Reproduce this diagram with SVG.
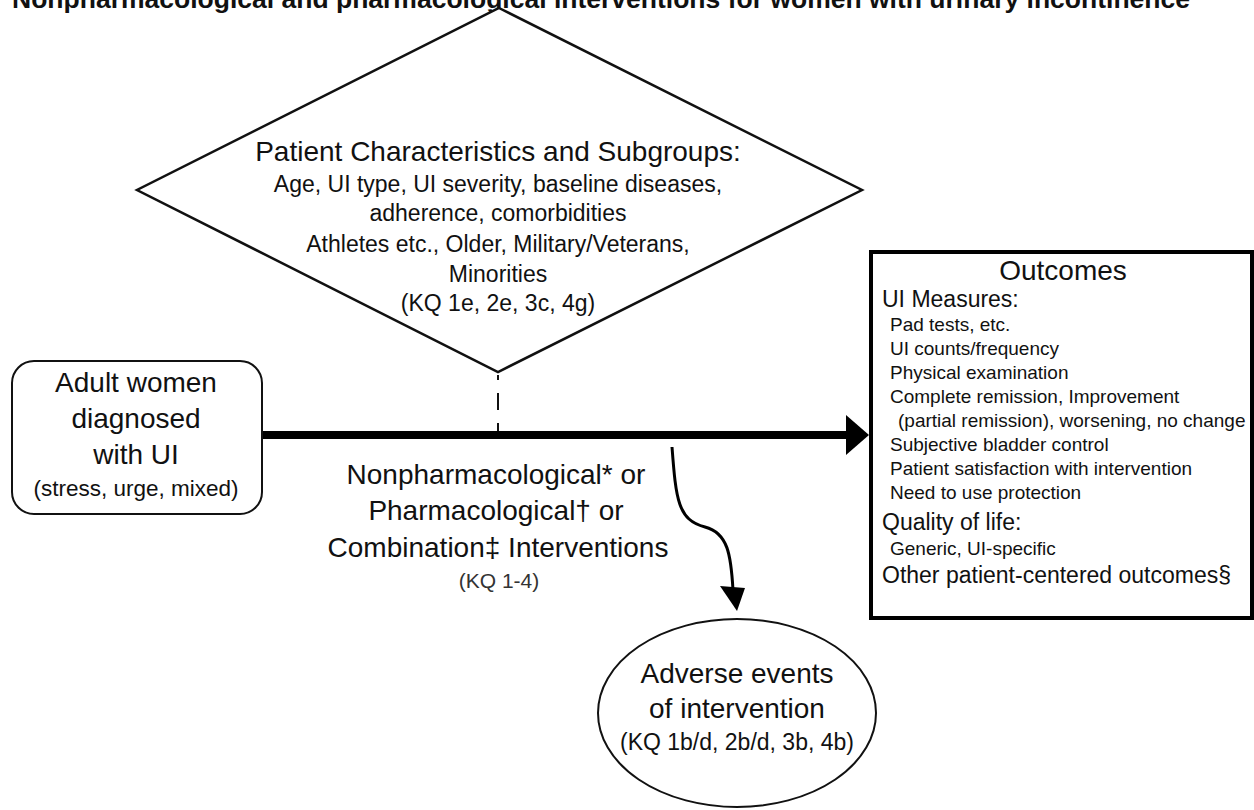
<svg xmlns="http://www.w3.org/2000/svg" width="1254" height="810" viewBox="0 0 1254 810">
<style>
text{font-family:"Liberation Sans",Arial,sans-serif;fill:#111}
.big{font-size:28px}
.mid{font-size:23px}
.sm{font-size:19px}
.c{text-anchor:middle}
.shape{fill:#fff;stroke:#111;stroke-width:2}
</style>
<rect width="1254" height="810" fill="#fff"/>
<g id="title"><text x="12" y="8" style="font-size:26px;font-weight:bold" textLength="1178" lengthAdjust="spacingAndGlyphs">Nonpharmacological and pharmacological interventions for women with urinary incontinence</text></g>
<g id="connectors">
<path d="M498,375 V431" fill="none" stroke="#111" stroke-width="2" stroke-dasharray="17,13" stroke-dashoffset="12"/>
<path d="M262,435 H848" fill="none" stroke="#000" stroke-width="8"/>
<polygon points="846,415 869,435 846,455" fill="#000"/>
<path d="M672,447 C676,500 678,520 705,527 C728,533 731,555 733,590" fill="none" stroke="#000" stroke-width="3"/>
<polygon points="720,586 745,588 737,611" fill="#000"/>
</g>
<g id="subgroups">
<polygon class="shape" points="499,8 862,190 498,372 137,190" style="stroke-width:2.5"/>
<text class="big c" x="498" y="161">Patient Characteristics and Subgroups:</text>
<text class="mid c" x="498" y="192">Age, UI type, UI severity, baseline diseases,</text>
<text class="mid c" x="498" y="221">adherence, comorbidities</text>
<text class="mid c" x="498" y="252">Athletes etc., Older, Military/Veterans,</text>
<text class="mid c" x="498" y="282">Minorities</text>
<text class="mid c" x="498" y="311">(KQ 1e, 2e, 3c, 4g)</text>
</g>
<g id="population">
<rect class="shape" x="12" y="361" width="250" height="153" rx="22"/>
<text class="big c" x="136" y="392">Adult women</text>
<text class="big c" x="136" y="428">diagnosed</text>
<text class="big c" x="136" y="464">with UI</text>
<text class="c" x="136" y="496" style="font-size:22.5px">(stress, urge, mixed)</text>
</g>
<g id="interventions">
<text class="big c" x="496" y="484">Nonpharmacological* or</text>
<text class="big c" x="496" y="520">Pharmacological† or</text>
<text class="big c" x="498" y="557">Combination‡ Interventions</text>
<text class="c" x="499" y="588" style="font-size:21px;fill:#333">(KQ 1-4)</text>
</g>
<g id="outcomes">
<rect x="871" y="252" width="381" height="366" fill="#fff" stroke="#000" stroke-width="4"/>
<text class="big c" x="1063" y="280">Outcomes</text>
<text class="mid" x="882" y="307">UI Measures:</text>
<text class="sm" x="890" y="331">Pad tests, etc.</text>
<text class="sm" x="890" y="355">UI counts/frequency</text>
<text class="sm" x="890" y="379">Physical examination</text>
<text class="sm" x="890" y="403">Complete remission, Improvement</text>
<text class="sm" x="898" y="427">(partial remission), worsening, no change</text>
<text class="sm" x="890" y="451">Subjective bladder control</text>
<text class="sm" x="890" y="475">Patient satisfaction with intervention</text>
<text class="sm" x="890" y="499">Need to use protection</text>
<text class="mid" x="882" y="530">Quality of life:</text>
<text class="sm" x="890" y="555">Generic, UI-specific</text>
<text class="mid" x="882" y="583">Other patient-centered outcomes§</text>
</g>
<g id="adverse">
<ellipse class="shape" cx="737" cy="713" rx="139" ry="94"/>
<text class="big c" x="737" y="683">Adverse events</text>
<text class="big c" x="737" y="718">of intervention</text>
<text class="c" x="737" y="750" style="font-size:23px">(KQ 1b/d, 2b/d, 3b, 4b)</text>
</g>
</svg>
